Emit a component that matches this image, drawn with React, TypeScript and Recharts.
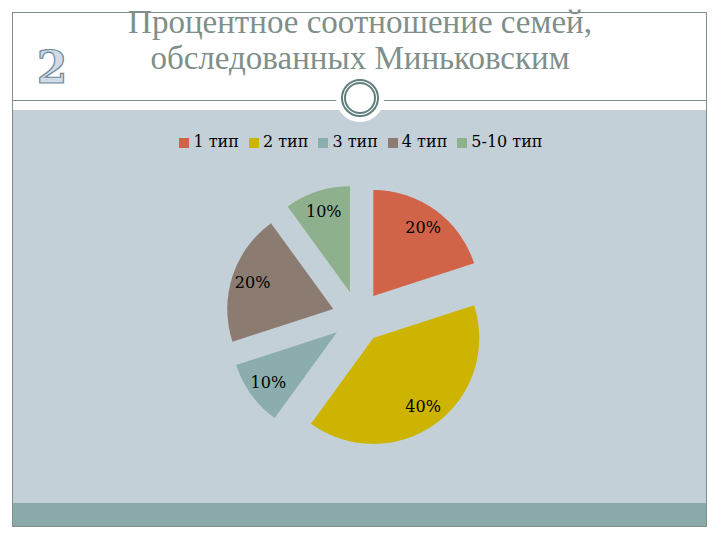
import { PieChart, Pie, Sector, Legend } from 'recharts';

const categories = ['1 тип', '2 тип', '3 тип', '4 тип', '5-10 тип'];
const shares = [20, 40, 10, 20, 10];
const colors = ['#d16349', '#ccb400', '#8cadae', '#8c7b70', '#8fb08c'];
const titleLines = ['Процентное соотношение семей,', 'обследованных Миньковским'];

const EXPLODE = 26;
const RAD = Math.PI / 180;
const serif = '"DejaVu Serif", serif';

const tableData = categories.map((name, i) => ({
  name,
  value: shares[i],
  fill: colors[i],
}));

function ExplodedSlice(props: any) {
  const dx = EXPLODE * Math.cos(-props.midAngle * RAD);
  const dy = EXPLODE * Math.sin(-props.midAngle * RAD);
  return (
    <g transform={`translate(${dx},${dy})`}>
      <Sector {...props} stroke="none" />
    </g>
  );
}

function sliceLabel(props: any) {
  const dist = EXPLODE + props.outerRadius * 0.8;
  const x = props.cx + dist * Math.cos(-props.midAngle * RAD);
  const y = props.cy + dist * Math.sin(-props.midAngle * RAD);
  return (
    <text
      x={x}
      y={y}
      textAnchor="middle"
      dominantBaseline="central"
      fontFamily={serif}
      fontSize={16}
      fill="#000"
    >
      {`${props.value}%`}
    </text>
  );
}

export default function App() {
  return (
    <div
      style={{
        position: 'absolute',
        left: 0,
        top: 0,
        width: 720,
        height: 540,
        background: '#fff',
        overflow: 'hidden',
      }}
    >
      {/* slide frame */}
      <div style={{ position: 'absolute', left: 12, top: 110, width: 695, height: 393, background: '#c4d0d8' }} />
      <div style={{ position: 'absolute', left: 12, top: 503, width: 695, height: 24, background: '#8aa9a8' }} />
      <div
        style={{
          position: 'absolute',
          left: 12,
          top: 12,
          width: 695,
          height: 515,
          border: '1px solid #7f8f8c',
          boxSizing: 'border-box',
        }}
      />
      <div style={{ position: 'absolute', left: 12, top: 100, width: 695, height: 1, background: '#7f8f8c' }} />

      {/* ring under the title */}
      <div
        style={{
          position: 'absolute',
          left: 336,
          top: 74,
          width: 48,
          height: 48,
          borderRadius: '50%',
          background: '#fff',
        }}
      />
      <div
        style={{
          position: 'absolute',
          left: 341,
          top: 79,
          width: 38,
          height: 38,
          borderRadius: '50%',
          border: '5px double #5f7f7d',
          boxSizing: 'border-box',
        }}
      />

      {titleLines.map((line, i) => (
        <div
          key={line}
          style={{
            position: 'absolute',
            left: 0,
            width: 720,
            top: i === 0 ? 4 : 40,
            textAlign: 'center',
            fontFamily: '"Liberation Serif", serif',
            fontSize: 33,
            lineHeight: '36px',
            color: '#7f8f8a',
            whiteSpace: 'nowrap',
          }}
        >
          {line}
        </div>
      ))}

      <svg style={{ position: 'absolute', left: 0, top: 0 }} width={720} height={120}>
        <text
          x={52}
          y={83}
          textAnchor="middle"
          fontFamily={serif}
          fontWeight="bold"
          fontSize={44}
          fill="#cfdbe5"
          stroke="#6f8799"
          strokeWidth={1.2}
        >
          2
        </text>
      </svg>

      <div style={{ position: 'absolute', left: 0, top: 0 }}>
        <PieChart width={720} height={540} margin={{ top: 0, right: 0, bottom: 0, left: 0 }}>
          <Pie
            data={tableData}
            dataKey="value"
            nameKey="name"
            cx={358}
            cy={298}
            outerRadius={106}
            startAngle={90}
            endAngle={-270}
            stroke="none"
            legendType="square"
            shape={ExplodedSlice}
            label={sliceLabel}
            labelLine={false}
            isAnimationActive={false}
          />
          <Legend
            layout="horizontal"
            align="center"
            verticalAlign="top"
            iconSize={10}
            formatter={(value: string) => <span style={{ color: '#000' }}>{value}</span>}
            wrapperStyle={{
              position: 'absolute',
              left: 6,
              top: 132,
              width: 720,
              fontFamily: serif,
              fontSize: 16,
            }}
          />
        </PieChart>
      </div>
    </div>
  );
}
